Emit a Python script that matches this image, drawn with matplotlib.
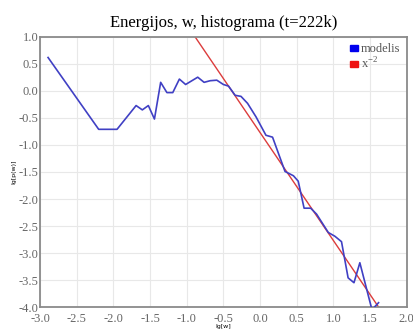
import matplotlib
matplotlib.use("Agg")
import matplotlib.pyplot as plt
from matplotlib.patches import Patch

# data
model_x = [-2.89, -2.2, -1.95, -1.69, -1.605, -1.523, -1.44, -1.355, -1.27, -1.19,
           -1.10, -1.015, -0.85, -0.763, -0.68, -0.59, -0.50, -0.43, -0.34, -0.26,
           -0.17, -0.055, 0.08, 0.17, 0.34, 0.455, 0.52, 0.60, 0.69, 0.77,
           0.93, 1.02, 1.11, 1.20, 1.28, 1.36, 1.525, 1.615]
model_y = [0.62, -0.71, -0.71, -0.27, -0.35, -0.27, -0.52, 0.16, -0.03, -0.03,
           0.22, 0.12, 0.255, 0.16, 0.19, 0.20, 0.12, 0.09, -0.08, -0.10,
           -0.23, -0.48, -0.82, -0.855, -1.49, -1.57, -1.67, -2.17, -2.17, -2.28,
           -2.62, -2.69, -2.79, -3.46, -3.55, -3.18, -4.05, -3.92]
ref_x = [-0.885, 1.615]
ref_y = [1.0, -4.0]
xticks = [-3.0, -2.5, -2.0, -1.5, -1.0, -0.5, 0.0, 0.5, 1.0, 1.5, 2.0]
yticks = [1.0, 0.5, 0.0, -0.5, -1.0, -1.5, -2.0, -2.5, -3.0, -3.5, -4.0]

serif = ['Liberation Serif', 'DejaVu Serif']
fig = plt.figure(figsize=(4.14, 3.33), dpi=100)
ax = fig.add_axes([0.0966, 0.078, 0.886, 0.811])
ax.plot(model_x, model_y, color='#4040c4', lw=1.2, zorder=3)
ax.plot(ref_x, ref_y, color='#dc3c3c', lw=1.0, zorder=2)
ax.set_xlim(-3.0, 2.0)
ax.set_ylim(-4.0, 1.0)
ax.set_xticks(xticks)
ax.set_yticks(yticks)
ax.set_xticklabels([f"{v:.1f}" for v in xticks], fontfamily=serif, fontsize=9, color='#666666')
ax.set_yticklabels([f"{v:.1f}" for v in yticks], fontfamily=serif, fontsize=9, color='#666666')
ax.tick_params(axis='x', length=0, pad=4.5)
ax.tick_params(axis='y', length=0, pad=1)
ax.grid(True, color='#e8e8e8', lw=0.8)
ax.set_axisbelow(True)
for s in ax.spines.values():
    s.set_color('#8a8a8a')
    s.set_linewidth(1.3)
ax.set_title("Energijos, w, histograma (t=222k)", fontfamily=serif, fontsize=12, pad=7)
ax.set_xlabel("lg[w]", fontsize=4.5, labelpad=-1)
ax.set_ylabel("lg[p(w)]", fontsize=4.5, labelpad=2)

handles = [Patch(color='#0000ee'), Patch(color='#ee1111')]
leg = ax.legend(handles, ["modelis", r"x$^{\mathregular{-2}}$"], loc='upper right',
                frameon=False, prop={'family': serif, 'size': 9}, handletextpad=0.25,
                labelcolor='#555555', borderaxespad=0.2, labelspacing=0.1,
                handlelength=0.65, handleheight=0.4, borderpad=0.3)
fig.savefig("out.png", dpi=100)
